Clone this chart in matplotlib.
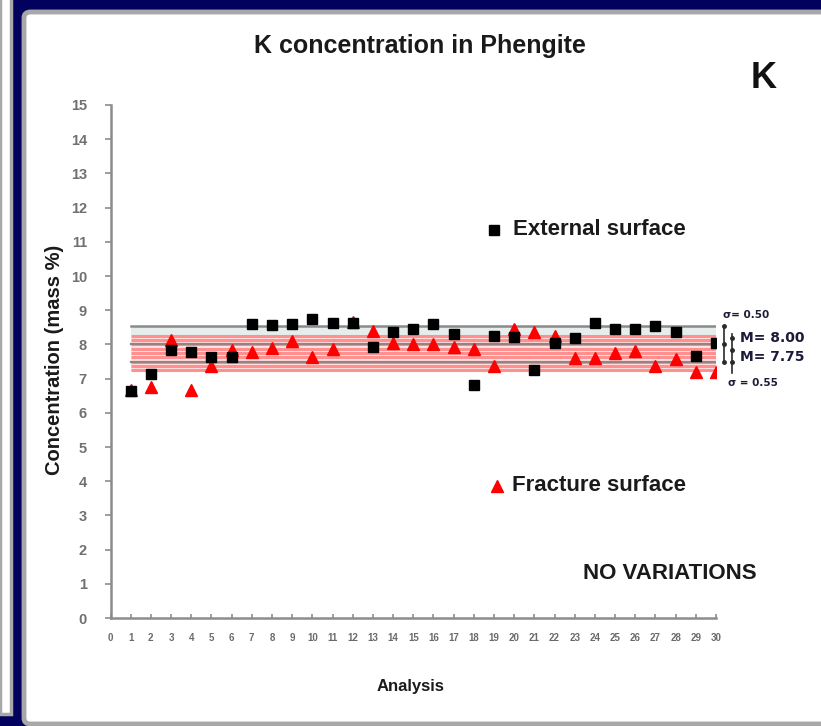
import matplotlib
matplotlib.use("Agg")
import matplotlib.pyplot as plt
from matplotlib.patches import Rectangle, FancyBboxPatch
import numpy as np

plt.rcParams['font.family'] = ['Liberation Sans', 'DejaVu Sans']

# Analysis number
analysis = list(range(1, 31))

# K concentration (mass %) measured on the external surface
external = [6.65, 7.13, 7.84, 7.78, 7.62, 7.63, 8.60, 8.57, 8.60, 8.74,
            8.63, 8.63, 7.93, 8.35, 8.44, 8.60, 8.29, 6.82, 8.25, 8.21,
            7.25, 8.04, 8.18, 8.62, 8.44, 8.44, 8.54, 8.35, 7.66, 8.03]

# K concentration (mass %) measured on the fracture surface
fracture = [6.68, 6.74, 8.14, 6.66, 7.38, 7.84, 7.77, 7.89, 8.09, 7.63,
            7.88, 8.66, 8.40, 8.03, 8.00, 8.00, 7.91, 7.86, 7.37, 8.44,
            8.35, 8.25, 7.61, 7.61, 7.76, 7.82, 7.37, 7.56, 7.20, 7.20]

# Summary statistics
mean_ext, sd_ext = 8.00, 0.55
mean_frac, sd_frac = 7.75, 0.50

y_ticks = list(range(0, 16))
x_ticks = list(range(0, 31))

W, H = 821, 726
fig = plt.figure(figsize=(W / 100, H / 100), dpi=100)
fig.patch.set_facecolor('#02025e')

# Slide-style panels behind the chart
fig.patches.append(Rectangle((0, 12 / H), 11 / W, 1, transform=fig.transFigure,
                             facecolor='white', edgecolor='#a8a8a8', lw=2.5, zorder=-10))
fig.patches.append(FancyBboxPatch((24 / W, 2 / H), 1.2, (H - 14) / H,
                                  boxstyle="round,pad=0,rounding_size=0.008",
                                  transform=fig.transFigure, facecolor='white',
                                  edgecolor='#a8a8a8', lw=3.5, zorder=-10))

ax = fig.add_axes([110.5 / W, 1 - 618 / H, 605.5 / W, 513 / H])
ax.set_zorder(1)
ax.set_xlim(0, 30)
ax.set_ylim(0, 15)
ax.patch.set_alpha(0)

# Bands of the mean and standard deviation
x0, x1 = 1, 30
ax.fill_between([x0, x1], mean_ext + sd_ext - 0.03, mean_frac + sd_frac + 0.02,
                color='#e6eded', lw=0, zorder=1)
ax.fill_between([x0, x1], mean_frac - sd_frac - 0.03, mean_frac + sd_frac + 0.02,
                color='#ffe3e3', lw=0, zorder=1)
for lvl in np.arange(mean_frac - sd_frac, mean_frac + sd_frac + 0.01, sd_frac / 4):
    ax.plot([x0, x1], [lvl, lvl], color='#ff9090', lw=2.2, zorder=2,
            solid_capstyle='butt')
for lvl in (mean_ext, mean_frac - sd_frac / 2):
    ax.plot([x0, x1], [lvl, lvl], color='#9a8080', lw=1.6, zorder=2)
ax.plot([x0, x1], [mean_ext + sd_ext] * 2, color='#8a8a8a', lw=1.8, zorder=2)

# Data points
ax.plot(analysis, fracture, linestyle='none', marker='^', color='#ff0000',
        markersize=8, zorder=4)
ax.plot(analysis, external, linestyle='none', marker='s', color='black',
        markersize=6.5, zorder=5)

# Range brackets on the right
ax.plot([30.42, 30.42], [mean_frac - sd_frac / 2, mean_ext + sd_ext], color='#2a2a2a',
        lw=1.2, marker='o', markersize=2.5, clip_on=False, zorder=6)
ax.plot([30.42], [mean_ext], marker='o', color='#2a2a2a', markersize=2.5, clip_on=False)
ax.plot([30.8, 30.8], [mean_frac - sd_frac - 0.1, mean_frac + sd_frac + 0.05], color='#2a2a2a',
        lw=1.2, clip_on=False, zorder=6)
ax.plot([30.8, 30.8, 30.8], [8.2, 7.85, 7.5], linestyle='none', marker='o',
        color='#2a2a2a', markersize=2.5, clip_on=False)

txt = dict(color='#1c1c3a', fontweight='bold', clip_on=False, va='center',
           family=['DejaVu Sans'])
ax.text(30.35, 8.85, 'σ= 0.50', fontsize=7.5, ha='left', **txt)
ax.text(31.2, 8.2, 'M= 8.00', fontsize=10, ha='left', **txt)
ax.text(31.2, 7.62, 'M= 7.75', fontsize=10, ha='left', **txt)
ax.text(30.6, 6.88, 'σ = 0.55', fontsize=7.5, ha='left', **txt)

# Axes styling
for s in ('top', 'right'):
    ax.spines[s].set_visible(False)
for s in ('left', 'bottom'):
    ax.spines[s].set_color('#8c8c8c')
    ax.spines[s].set_linewidth(1.8)
ax.set_yticks(y_ticks)
ax.set_yticklabels([str(v) for v in y_ticks], fontsize=10.5, fontweight='bold',
                   color='#707070')
ax.set_xticks(x_ticks)
ax.set_xticklabels([str(v) for v in x_ticks], fontsize=7, fontweight='bold',
                   color='#6a6a6a')
ax.tick_params(axis='y', direction='out', length=4, width=1.2, color='#8c8c8c', pad=13)
ax.tick_params(axis='x', direction='in', length=3, width=1.2, color='#8c8c8c', pad=11)

ax.set_ylabel('Concentration (mass %)', fontsize=14.5, fontweight='bold', color='#1a1a1a')
ax.yaxis.set_label_coords(-0.077, 0.503)
ax.set_xlabel('Analysis', fontsize=12, fontweight='bold', color='#1a1a1a')
ax.xaxis.set_label_coords(0.496, -0.118)

# Title and element label
fig.text(420 / W, 1 - 46 / H, 'K concentration in Phengite', ha='center', va='center',
         fontsize=18, fontweight='bold', color='#1a1a1a')
fig.text(764 / W, 1 - 79 / H, 'K', ha='center', va='center', fontsize=26,
         fontweight='bold', color='#111111')

# Series labels
ax.plot([19.0], [11.35], marker='s', color='black', markersize=7, clip_on=False)
ax.text(19.95, 11.35, 'External surface', fontsize=16, fontweight='bold',
        color='#1a1a1a', va='center', ha='left')
ax.plot([19.15], [3.87], marker='^', color='#ff0000', markersize=8, clip_on=False)
ax.text(19.9, 3.87, 'Fracture surface', fontsize=16, fontweight='bold',
        color='#1a1a1a', va='center', ha='left')
ax.text(23.4, 1.3, 'NO VARIATIONS', fontsize=16, fontweight='bold',
        color='#1a1a1a', va='center', ha='left')

fig.savefig('out.png', dpi=100)
